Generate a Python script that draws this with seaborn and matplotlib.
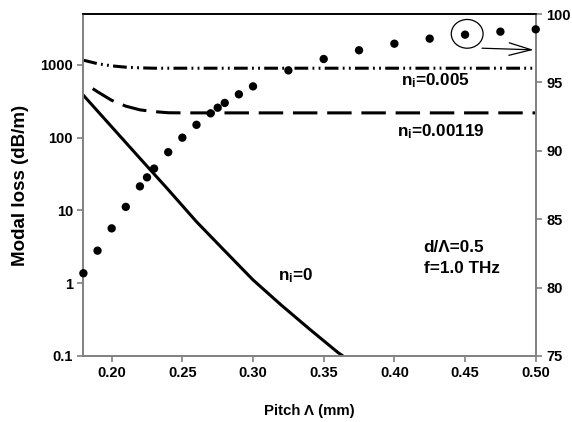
import numpy as np
import pandas as pd
import matplotlib
matplotlib.use("Agg")
import matplotlib.pyplot as plt
from matplotlib.patches import Ellipse
import seaborn as sns

# ---- data ----
pitch_n0 = [0.18, 0.20, 0.22, 0.24, 0.26, 0.28, 0.30, 0.32, 0.34, 0.36, 0.3636]
loss_n0 = [382, 141, 52, 19.3, 7.0, 2.78, 1.11, 0.50, 0.234, 0.112, 0.1]

pitch_n1 = [0.1866, 0.19, 0.20, 0.21, 0.22, 0.23, 0.24, 0.25, 0.30, 0.40, 0.50]
loss_n1 = [472, 427, 326, 271, 241, 228, 220, 219, 219, 219, 219]

pitch_n5 = [0.18, 0.19, 0.20, 0.21, 0.22, 0.23, 0.25, 0.30, 0.40, 0.50]
loss_n5 = [1160, 1039, 969, 930, 910, 900, 900, 900, 900, 900]

pitch_pts = [0.18, 0.19, 0.20, 0.21, 0.22, 0.225, 0.23, 0.24, 0.25, 0.26, 0.27,
             0.275, 0.28, 0.29, 0.30, 0.325, 0.35, 0.375, 0.40, 0.425, 0.45,
             0.475, 0.50]
power_pts = [81.05, 82.7, 84.33, 85.9, 87.4, 88.06, 88.7, 89.9, 90.96, 91.9, 92.74,
             93.15, 93.5, 94.13, 94.71, 95.88, 96.71, 97.35, 97.83, 98.2, 98.49,
             98.71, 98.88]

xticks = [0.20, 0.25, 0.30, 0.35, 0.40, 0.45, 0.50]
xticklabels = ["0.20", "0.25", "0.30", "0.35", "0.40", "0.45", "0.50"]
yticks_left = [0.1, 1, 10, 100, 1000]
yticklabels_left = ["0.1", "1", "10", "100", "1000"]
yticks_right = [75, 80, 85, 90, 95, 100]

sns.set_style("ticks")
plt.rcParams["font.family"] = ["Liberation Sans", "DejaVu Sans"]
plt.rcParams["font.weight"] = "bold"
plt.rcParams["mathtext.default"] = "regular"
plt.rcParams["text.color"] = "black"
plt.rcParams["axes.labelcolor"] = "black"

fig = plt.figure(figsize=(5.72, 4.22), dpi=100)
ax = fig.add_axes([0.1458, 0.1564, 0.7908, 0.8104])

lw = 2.2
sns.lineplot(x=pitch_n0, y=loss_n0, ax=ax, color="black", lw=lw)
sns.lineplot(x=pitch_n1, y=loss_n1, ax=ax, color="black", lw=lw)
ax.lines[-1].set_dashes([8, 3.2])
sns.lineplot(x=pitch_n5, y=loss_n5, ax=ax, color="black", lw=lw)
ax.lines[-1].set_dashes([4.5, 1.4, 0.6, 1.4, 0.6, 1.4])

ax.set_yscale("log")
ax.set_xlim(0.18, 0.50)
ax.set_ylim(0.1, 5000)
ax.set_xticks(xticks)
ax.set_xticklabels(xticklabels)
ax.set_yticks(yticks_left)
ax.set_yticklabels(yticklabels_left)
ax.yaxis.set_minor_locator(matplotlib.ticker.NullLocator())

ax2 = ax.twinx()
sns.scatterplot(x=pitch_pts, y=power_pts, ax=ax2, color="black", s=36,
                edgecolor="none", clip_on=False, zorder=5)
ax2.set_ylim(75, 100)
ax2.set_yticks(yticks_right)
ax2.set_xlim(0.18, 0.50)

gray = "#808080"
for a in (ax, ax2):
    for side in ("left", "bottom", "right"):
        a.spines[side].set_color(gray)
        a.spines[side].set_linewidth(1.2)
    a.spines["top"].set_color("black")
    a.spines["top"].set_linewidth(1.2)
    a.tick_params(colors="black", labelsize=10.5, width=1.2, length=4,
                  direction="out")
    for lab in a.get_xticklabels() + a.get_yticklabels():
        lab.set_fontweight("bold")
ax.tick_params(axis="both", color=gray)
ax2.tick_params(axis="y", color=gray)

ax.set_xlabel("Pitch \u039b (mm)", fontsize=10.8, fontweight="bold", labelpad=17)
ax.set_ylabel("Modal loss (dB/m)", fontsize=13.5, fontweight="bold", labelpad=8)
ax2.set_ylabel("")

# annotations
fs = 12.3
ax.text(0.4048, 525, "n$_{i}$=0.005", fontsize=fs, fontweight="bold")
ax.text(0.4022, 105, "n$_{i}$=0.00119", fontsize=fs, fontweight="bold")
ax.text(0.3177, 1.1, "n$_{i}$=0", fontsize=fs, fontweight="bold")
ax.text(0.4207, 2.69, "d/\u039b=0.5", fontsize=fs, fontweight="bold")
ax.text(0.4207, 1.40, "f=1.0 THz", fontsize=fs, fontweight="bold")

ell = Ellipse((0.4515, 98.55), 0.0225, 2.1, fill=False, edgecolor="black", lw=0.9,
              zorder=6)
ax2.add_patch(ell)
ax2.annotate("", xy=(0.4985, 97.38), xytext=(0.4620, 97.5),
             arrowprops=dict(arrowstyle="->,head_length=1.6,head_width=0.45",
                             color="black", lw=0.9, shrinkA=0, shrinkB=0))

fig.savefig("out.png", dpi=100)
